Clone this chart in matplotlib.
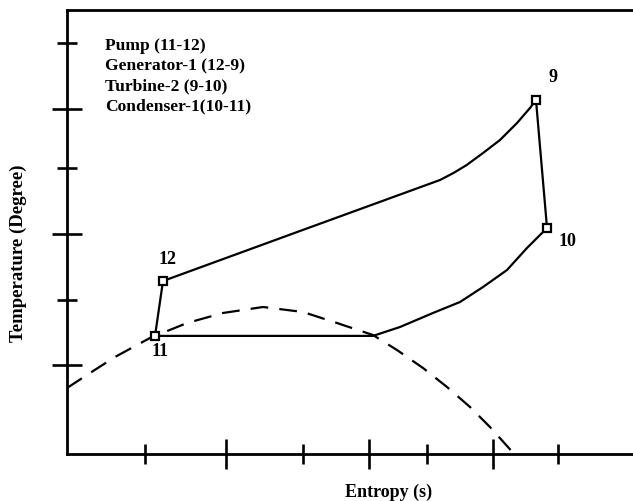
import matplotlib
matplotlib.use("Agg")
import matplotlib.pyplot as plt

# ---- data (arbitrary entropy / temperature units) ----
state_labels = ["11", "12", "9", "10"]
state_s = [1.555, 1.696, 8.286, 8.481]
state_T = [2.66, 3.896, 7.973, 5.090]

# pump 11 -> 12
pump_s = [1.555, 1.696]
pump_T = [2.66, 3.896]
# generator 12 -> 9
gen_s = [1.696, 4.117, 6.590, 6.830, 7.062, 7.350, 7.650, 7.951, 8.180, 8.286]
gen_T = [3.896, 5.023, 6.171, 6.330, 6.509, 6.779, 7.072, 7.455, 7.793, 7.973]
# turbine 9 -> 10
turb_s = [8.286, 8.481]
turb_T = [7.973, 5.090]
# condenser 10 -> 11
cond_s = [8.481, 8.127, 7.774, 7.350, 6.943, 6.466, 5.883, 5.406, 1.555]
cond_T = [5.090, 4.640, 4.144, 3.761, 3.423, 3.176, 2.860, 2.66, 2.66]
# saturation dome
dome_s = [0.0, 0.406, 0.848, 1.466, 2.120, 2.756, 3.463, 4.170, 4.770, 5.406,
          5.830, 6.290, 6.714, 7.120, 7.473, 7.915]
dome_T = [1.486, 1.824, 2.185, 2.613, 2.950, 3.176, 3.311, 3.198, 2.950, 2.680,
          2.342, 1.937, 1.509, 1.059, 0.608, -0.02]

xticks_major = [2.809, 5.336, 7.527]
xticks_minor = [1.378, 4.170, 6.360, 8.675]
yticks_major = [2.005, 4.955, 7.770]
yticks_minor = [3.468, 6.441, 9.257]

legend_lines = ["Pump (11-12)", "Generator-1 (12-9)", "Turbine-2 (9-10)", "Condenser-1(10-11)"]

serif = "Liberation Serif"

fig = plt.figure(figsize=(6.33, 5.01), dpi=100)
ax = fig.add_axes([67/633, 47/501, 566/633, 444/501])
ax.set_xlim(0, 10)
ax.set_ylim(0, 10)

lw = 1.6
ax.plot(dome_s, dome_T, color="black", lw=lw, dashes=(8, 5), clip_on=True)
for s, T in [(pump_s, pump_T), (gen_s, gen_T), (turb_s, turb_T), (cond_s, cond_T)]:
    ax.plot(s, T, color="black", lw=lw, solid_capstyle="round", solid_joinstyle="round")
ax.plot(state_s, state_T, linestyle="none", marker="s", markersize=5.5,
        markerfacecolor="white", markeredgecolor="black", markeredgewidth=1.6, zorder=5)

offsets = {"11": (3.6, -11.5), "12": (3.6, 15.8), "9": (12, 16), "10": (14.4, -9.4)}
for lab, s, T in zip(state_labels, state_s, state_T):
    ax.annotate(lab, (s, T), xytext=offsets[lab], textcoords="offset points",
                ha="center", va="center", fontsize=13, fontweight="bold", family=serif)

ys = [0.919, 0.874, 0.829, 0.784]
for txt, yy in zip(legend_lines, ys):
    ax.text(0.067, yy, txt, transform=ax.transAxes, ha="left", va="center",
            fontsize=12.6, fontweight="bold", family=serif)

ax.spines["right"].set_visible(False)
for side in ["left", "top", "bottom"]:
    ax.spines[side].set_linewidth(2.0)

ax.set_xticks(xticks_major)
ax.set_xticks(xticks_minor, minor=True)
ax.set_yticks(yticks_major)
ax.set_yticks(yticks_minor, minor=True)
ax.tick_params(which="major", direction="inout", length=21, width=1.9, labelbottom=False, labelleft=False)
ax.tick_params(which="minor", direction="inout", length=15, width=1.9)
ax.tick_params(top=False, right=False, which="both")

ax.set_xlabel("Entropy (s)", fontsize=13, fontweight="bold", family=serif)
ax.xaxis.set_label_coords((389-67)/566, -(484-454)/444)
ax.set_ylabel("Temperature (Degree)", fontsize=13.5, fontweight="bold", family=serif)
ax.yaxis.set_label_coords(-(67-27)/566, (454-253)/444)

fig.savefig("out.png", dpi=100)
